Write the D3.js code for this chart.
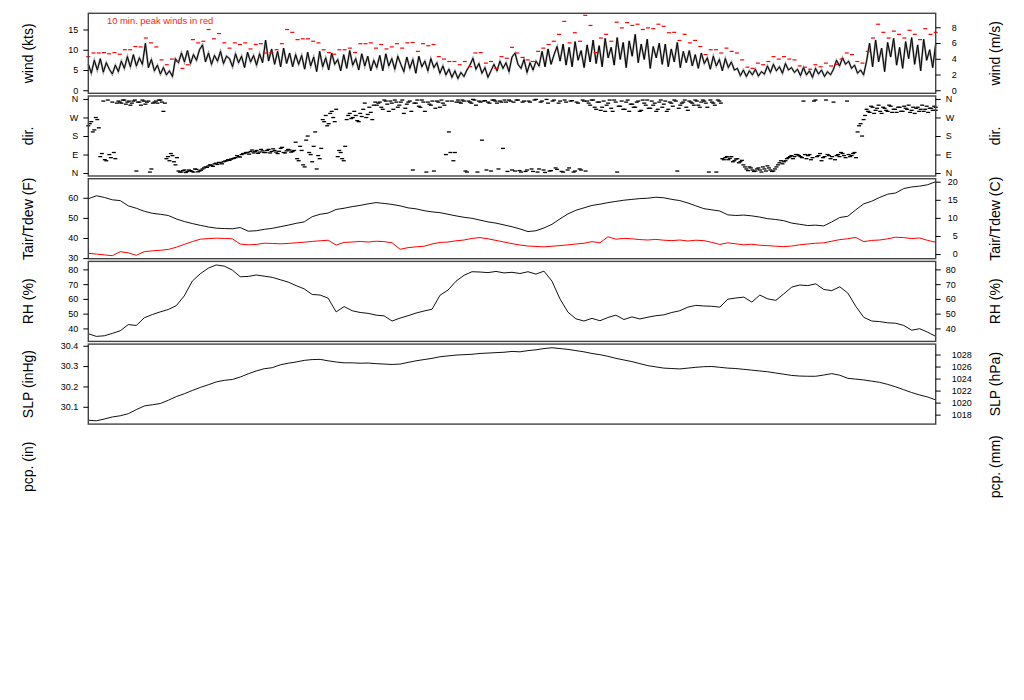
<!DOCTYPE html>
<meta charset="utf-8">
<script src="https://d3js.org/d3.v7.min.js"></script>
<style>
body { margin: 0; background: #fff; }
text { font-family: "Liberation Sans", Arial, sans-serif; }
.frame { fill: none; stroke: #444; stroke-width: 1.4px; }
.tick line { stroke: #000; }
.tick text { font-size: 9px; fill: #000; }
.lab { font-size: 14px; fill: #000; }
</style>
<body>
<script>

// ---- data (evenly spaced samples over the whole period) ----
let spanHours = 72;

// wind speed (kts)
let windKts = [
  6.5, 4.2, 7.4, 5.0, 7.8, 4.5, 6.8, 5.2,
  4.0, 6.2, 4.6,
  7.2, 5.4, 8.3, 5.8, 8.8, 6.0, 8.0, 6.4, 11.6,
  5.6, 7.6,
  4.8, 6.2, 4.0, 5.6, 3.8, 4.8, 3.4,
  7.8, 6.8, 9.2, 7.0, 9.8, 6.6, 8.8, 7.4, 10.0, 11.2,
  7.0, 9.2, 6.4, 8.6, 7.2, 9.6, 6.6, 8.4,
  7.8, 5.8, 9.0, 6.8, 8.4, 5.6, 9.4, 7.0, 8.6, 6.2, 9.0, 6.8,
  12.4, 7.2, 10.2,
  6.4, 9.6, 5.8, 10.4, 6.6, 9.2, 5.8, 8.8, 6.4,
  8.6, 5.2, 9.4, 6.0, 8.2, 4.6, 9.6, 5.8, 8.0, 5.0, 9.2, 6.4, 7.6, 4.8, 8.8, 5.4, 9.8, 6.2, 7.8, 5.0, 9.0, 6.0, 8.4, 4.8, 7.4,
  5.6, 8.6, 4.8, 9.0, 6.0, 7.8, 5.2, 8.4, 6.4,
  4.6, 8.2, 5.4, 7.6, 4.2, 8.4, 5.8, 7.2, 4.8, 7.8, 5.6,
  6.8, 4.2, 6.0, 3.8, 5.2, 3.2, 4.8, 2.9, 4.4, 3.4, 5.0,
  6.2, 7.9, 5.2, 6.6,
  4.2, 5.6, 3.2, 4.8,
  6.4, 4.8, 7.2, 5.4, 6.8, 4.6,
  8.2, 9.2, 6.4,
  5.4, 7.6, 4.4, 6.8, 5.0, 7.2,
  6.0, 9.6, 5.8, 10.2, 6.4, 8.8, 10.8,
  7.2, 11.4, 6.2, 10.6, 5.8, 12.0, 7.4, 9.8, 5.6, 11.2,
  7.0, 12.4, 6.6, 11.0, 5.8, 12.8, 8.0, 10.6, 6.2, 13.0, 7.6, 11.8, 5.6, 12.2, 8.4, 13.8, 6.8, 11.4, 7.6, 12.6, 5.4, 10.8, 8.0, 11.6,
  6.4, 11.4, 5.8, 10.2, 7.0, 11.8, 5.6, 9.6, 6.8,
  9.8, 6.0, 8.8, 5.4, 9.2, 6.6, 8.0, 5.2, 8.4, 6.0, 7.6, 4.8, 7.8, 5.6, 7.0, 5.0,
  5.4, 3.6, 5.0, 3.4, 4.8, 3.8, 5.2, 3.5, 4.6, 4.0,
  6.0, 4.4, 6.4, 4.8, 5.8, 4.2, 6.6, 5.0, 5.6, 4.4,
  5.2, 3.6, 5.6, 3.8, 4.8, 3.2, 5.4, 4.0, 5.0, 3.4, 4.6, 3.8, 5.2,
  7.4, 6.0, 8.0, 6.4, 7.2, 5.4, 6.2,
  4.2, 5.0, 3.8,
  7.2, 11.6, 5.8, 12.4, 7.0, 10.4, 4.6, 11.8, 8.2, 12.8, 6.2, 10.6, 5.4, 12.0, 7.8, 13.0, 6.4, 11.2, 4.8, 12.6, 7.4, 10.0, 5.6, 11.4
];

// 10 min. peak winds (kts)
let peakKts = [
  8.3, 9.2, 9.2, 9.3, 9.0, 9.3, 8.9, 10.0, 10.0, 10.8, 10.7, 12.9, 11.7, 10.7, 7.5, 6.3, 7.7, 7.1, 5.4, 6.3,
  12.5, 11.7, 12.1, 15.0, 12.7, 14.0, 11.7, 10.4, 11.7, 11.3, 11.7, 10.2, 11.3, 11.5, 9.2, 9.2, 10.0, 11.5,
  15.0, 14.3, 12.5, 12.7, 12.7, 12.1, 11.7, 10.0, 9.3, 8.9, 10.0, 10.0, 10.4, 9.3, 11.5, 11.5, 11.7, 10.4, 11.3,
  10.2, 10.7, 11.5, 10.4, 11.7, 11.8, 9.6, 11.5, 11.0, 11.3, 8.3, 7.7, 7.1, 7.1, 6.3, 7.1, 5.8, 9.2, 9.3, 6.7, 7.1, 5.4, 8.3, 7.9,
  10.6, 9.2, 8.1, 7.5, 7.1, 9.6, 10.4, 11.3, 12.1, 13.8, 17.0, 11.7, 14.2, 12.1, 18.5, 16.0, 9.3, 12.9, 13.8, 12.1, 16.8, 15.4, 16.7, 16.0, 16.3, 15.0, 15.4, 15.2, 16.3,
  15.8, 14.2, 14.3, 12.3, 13.8, 11.7, 12.3, 10.8, 8.8, 10.0, 10.0, 9.2, 10.4, 9.6, 9.2, 7.5, 5.7, 5.4, 6.7, 6.3, 7.1, 8.3, 7.7, 8.3, 7.7, 7.5, 6.0, 5.7, 5.2, 6.3, 5.8, 6.7, 6.0, 6.4, 7.7,
  9.2, 8.8, 7.1, 6.7, 9.6, 12.9, 16.3, 14.3, 12.9, 14.6, 13.8, 12.9, 14.8, 13.8, 12.5, 15.2, 13.8, 14.3
];

// wind direction (degrees), two interleaved sample sets
let dirDeg = [
  230, 250, 210, 260,
  80, 350, 60, 90, 345, 70,
  350, 340, 355, 345, 330, 350, 10, 345, 355, 335, 350, 20, 345, 340, 355, 300,
  70, 60, 85, 40,
  10, 5, 15, 8, 12, 5, 18, 10, 20,
  30, 35, 38, 45, 42, 50, 55, 60, 62, 70, 75, 80, 90,
  95, 100, 105, 98, 110, 102, 108, 100, 115, 105, 110, 95, 120, 100, 108, 112, 105,
  150, 60, 110, 30, 180, 90, 130, 20, 70,
  260, 280, 240, 300, 250,
  80, 100, 60,
  260, 290, 270, 280, 250, 275, 340, 285, 295, 330,
  330, 345, 310, 350, 300, 340, 355, 320, 345, 290, 335, 350, 15, 340, 325, 355, 300, 345, 330, 10, 350, 320, 340,
  90, 200, 350, 100,
  355, 340, 350, 5, 345, 358, 330, 350, 160, 352, 345, 10, 355, 340, 350, 120, 345, 355, 15,
  10, 355, 5, 350, 15, 345, 8, 358, 20, 350, 3, 340, 12, 355, 18, 350, 5, 345, 25, 352, 10, 340, 15, 350,
  350, 330, 355, 310, 345, 320, 300, 340, 315, 355, 5, 325, 310, 345, 300, 335, 320, 350, 305, 340,
  355, 315, 330, 300, 345, 320, 350, 310, 340, 355, 10, 330, 345, 320, 350, 340, 355, 330, 345, 350,
  320, 355, 340, 5, 350,
  70, 75, 65, 80, 60, 70, 55, 40, 20, 30, 15, 10, 25, 5, 20, 35, 15, 10, 30, 50, 45, 60, 75, 85, 80, 90,
  80, 350, 70, 90, 75, 355, 85, 60, 80, 90, 70, 345, 85, 80, 95, 75, 90, 85, 100,
  200, 240, 260,
  310, 295, 320, 305, 330, 290, 315, 300, 325, 310, 295, 320, 300, 315, 330, 305, 290, 320, 310, 300, 325, 315, 305, 320
];
let dirDegB = [
  240, 200, 270, 220,
  95, 65, 355, 75, 100, 340,
  345, 355, 335, 350, 340, 355, 345, 330, 350, 345, 5, 340, 350, 355, 345, 340,
  80, 95, 55, 75,
  5, 12, 3, 15, 8, 20, 6, 14, 25,
  28, 40, 33, 48, 52, 45, 58, 65, 68, 72, 85, 78, 95,
  100, 92, 112, 104, 96, 115, 100, 110, 98, 118, 102, 106, 125, 98, 115, 102, 110,
  70, 130, 40, 160, 100, 55, 200, 85, 120,
  250, 230, 290, 270, 310,
  110, 70, 130,
  280, 265, 300, 255, 290, 310, 270, 320, 260, 345,
  340, 320, 355, 335, 350, 310, 345, 330, 355, 315, 345, 300, 340, 355, 320, 345, 5, 335, 350, 315, 345, 355, 330,
  350, 100, 60, 345,
  345, 355, 10, 350, 340, 355, 5, 345, 350, 15, 340, 355, 350, 20, 345, 355, 8, 350, 345,
  355, 12, 345, 8, 350, 20, 355, 5, 345, 15, 358, 10, 350, 25, 340, 8, 355, 15, 350, 5, 345, 20, 355, 10,
  340, 355, 320, 345, 305, 350, 330, 355, 300, 345, 325, 350, 310, 355, 335, 320, 345, 300, 355, 330,
  315, 350, 340, 310, 355, 335, 300, 345, 325, 350, 315, 340, 355, 305, 345, 330, 350, 320, 355, 340,
  5, 345, 330, 355, 340,
  65, 80, 72, 55, 68, 50, 62, 30, 12, 25, 8, 20, 15, 30, 10, 25, 8, 20, 40, 60, 55, 70, 80, 70, 90, 85,
  75, 90, 85, 65, 350, 80, 95, 75, 355, 85, 80, 65, 90, 100, 85, 350, 80, 95, 75,
  230, 180, 280,
  300, 325, 290, 315, 300, 320, 305, 330, 295, 310, 320, 300, 325, 310, 295, 320, 315, 300, 330, 310, 295, 315, 325, 305
];

// air temperature and dew point (F)
let tairF = [
  59.5, 61.0, 60.2, 59.0, 58.6, 56.0, 54.8, 53.3, 52.3, 51.8, 51.2, 49.5, 48.2, 47.2, 46.3, 45.5, 44.9, 44.7, 44.6, 45.2,
  43.4, 43.6, 44.3, 44.8, 45.6, 46.4, 47.3, 48.0, 50.6, 51.8, 52.4, 54.2, 54.8, 55.6, 56.2, 57.0, 57.6, 57.2, 56.7, 56.0,
  55.0, 54.5, 53.6, 53.0, 52.6, 51.8, 51.0, 50.3, 49.8, 48.9, 48.0, 47.4, 46.5, 45.6, 44.5, 43.2, 43.6, 45.0, 46.8, 49.5,
  52.0, 53.8, 55.0, 56.2, 56.8, 57.6, 58.2, 58.8, 59.2, 59.6, 59.8, 60.3, 60.0, 59.2, 58.6, 57.4, 56.0, 54.6, 54.0, 53.4,
  51.5, 51.2, 51.4, 51.0, 50.4, 49.6, 49.2, 48.6, 47.4, 46.8, 46.2, 46.4, 46.0, 48.0, 50.2, 50.8, 54.0, 57.0, 58.3, 60.2,
  61.8, 62.4, 64.6, 65.4, 65.8, 66.5, 68.0
];
let tdewF = [
  32.4, 32.0, 31.6, 31.2, 33.2, 32.6, 31.4, 33.2, 33.6, 33.9, 34.3, 35.4, 36.8, 38.2, 39.4, 39.7, 39.9, 39.8, 39.6, 37.0,
  36.6, 36.8, 37.4, 37.3, 37.1, 37.3, 37.6, 37.9, 38.3, 38.6, 38.9, 36.5, 37.8, 38.0, 38.3, 38.0, 38.4, 38.2, 37.6, 34.4,
  35.2, 35.6, 35.9, 37.0, 37.8, 38.0, 38.6, 39.0, 39.8, 40.2, 39.6, 38.8, 38.0, 37.2, 36.5, 36.0, 35.8, 35.6, 35.9, 36.2,
  36.6, 37.0, 37.4, 38.2, 37.6, 40.6, 39.4, 39.8, 39.6, 39.2, 39.0, 39.3, 38.9, 38.7, 39.0, 38.5, 38.9, 38.7, 37.8, 36.8,
  37.6, 37.1, 36.6, 36.9, 36.4, 36.2, 35.9, 35.7, 36.0, 36.6, 37.0, 37.4, 37.6, 38.4, 39.2, 39.6, 40.3, 38.2, 38.8, 39.0,
  39.6, 40.4, 40.2, 39.7, 40.0, 38.8, 37.9
];

// relative humidity (%)
let rhPct = [
  36.4, 34.6, 35.0, 36.6, 38.4, 42.6, 42.0, 47.2, 49.4, 51.2, 52.8, 55.4, 62.0, 72.0, 77.0, 80.8, 83.0, 82.2, 79.6, 75.0,
  75.2, 76.2, 75.4, 74.6, 73.0, 71.4, 69.0, 66.8, 63.0, 62.6, 60.5, 51.2, 54.8, 52.0, 50.8, 50.2, 49.0, 48.5, 45.0, 47.0,
  48.6, 50.4, 51.8, 53.0, 62.5, 66.0, 72.0, 76.0, 78.4, 78.2, 77.8, 78.6, 77.6, 78.0, 77.2, 78.4, 76.8, 78.8, 72.0, 60.0,
  51.0, 46.5, 45.0, 46.8, 45.2, 47.4, 49.0, 46.0, 47.8, 46.4, 47.6, 48.6, 49.2, 50.8, 52.0, 54.4, 55.6, 55.2, 55.0, 54.4,
  59.8, 60.6, 61.2, 57.8, 62.6, 60.0, 59.0, 63.4, 68.0, 69.4, 69.0, 70.2, 66.4, 65.6, 68.2, 64.0, 55.0, 47.5, 45.0, 44.6,
  43.8, 43.5, 42.0, 38.8, 39.8, 37.4, 34.6
];

// sea level pressure (inHg)
let slpInHg = [
  30.034, 30.031, 30.040, 30.050, 30.056, 30.066, 30.086, 30.104, 30.110, 30.116, 30.132, 30.150, 30.164, 30.180, 30.195,
  30.208, 30.222, 30.230, 30.234, 30.246, 30.262, 30.276, 30.287, 30.292, 30.306, 30.314, 30.320, 30.328, 30.332, 30.333,
  30.326, 30.320, 30.316, 30.316, 30.314, 30.315, 30.312, 30.310, 30.308, 30.310, 30.318, 30.326, 30.332, 30.338, 30.346,
  30.350, 30.354, 30.356, 30.358, 30.362, 30.364, 30.366, 30.368, 30.372, 30.370, 30.376, 30.380, 30.386, 30.390, 30.386,
  30.382, 30.376, 30.370, 30.362, 30.356, 30.348, 30.338, 30.330, 30.322, 30.312, 30.302, 30.296, 30.290, 30.288, 30.286,
  30.290, 30.294, 30.297, 30.298, 30.294, 30.290, 30.288, 30.284, 30.280, 30.276, 30.272, 30.266, 30.260, 30.254, 30.251,
  30.250, 30.250, 30.256, 30.263, 30.255, 30.240, 30.236, 30.232, 30.226, 30.220, 30.210, 30.198, 30.184, 30.170, 30.158,
  30.148, 30.134
];

// tick values and labels
let windTicks = [0, 5, 10, 15];
let windMsTicks = [0, 2, 4, 6, 8];
let dirTicks = [0, 90, 180, 270, 360];
let dirTickLabels = ["N", "E", "S", "W", "N"];
let tempFTicks = [30, 40, 50, 60];
let tempCTicks = [0, 5, 10, 15, 20];
let rhTicks = [40, 50, 60, 70, 80];
let slpInTicks = [30.1, 30.2, 30.3, 30.4];
let slpHpaTicks = [1018, 1020, 1022, 1024, 1026, 1028];

// ---- layout ----
let width = 1024, height = 700;
let left = 88.3, right = 935.7, top0 = 13.3, ph = 80, step = 82.7;

let svg = d3.select("body").append("svg")
    .attr("width", width)
    .attr("height", height);

let x = d3.scaleLinear().domain([0, spanHours]).range([left, right]);

function timed(arr) {
  return arr.map((v, i) => ({t: i * spanHours / (arr.length - 1), v: v}));
}

// second direction set sampled half a step later
function timedHalf(arr) {
  let dt = spanHours / (arr.length - 1);
  return arr.map((v, i) => ({t: Math.min(spanHours, (i + 0.5) * dt), v: v}));
}

function panelY(k, dom) {
  return d3.scaleLinear().domain(dom).range([top0 + k * step + ph, top0 + k * step]);
}

function sideLabels(k, lab, rlab) {
  let cy = top0 + k * step + ph / 2;
  svg.append("text").attr("class", "lab")
      .attr("transform", `translate(28,${cy}) rotate(-90)`)
      .attr("text-anchor", "middle").attr("dy", "0.35em")
      .text(lab);
  svg.append("text").attr("class", "lab")
      .attr("transform", `translate(995,${cy}) rotate(-90)`)
      .attr("text-anchor", "middle").attr("dy", "0.35em")
      .text(rlab);
}

function frame(k) {
  svg.append("rect").attr("class", "frame")
      .attr("x", left).attr("y", top0 + k * step)
      .attr("width", right - left).attr("height", ph);
}

function leftAxis(y, ticks, fmt) {
  let ax = d3.axisLeft(y).tickValues(ticks).tickSize(5).tickPadding(5);
  if (fmt) ax.tickFormat(fmt);
  let g = svg.append("g").attr("transform", `translate(${left},0)`).call(ax);
  g.select(".domain").remove();
  return g;
}

function rightAxis(y, ticks, pad, fmt) {
  let ax = d3.axisRight(y).tickValues(ticks).tickSize(5).tickPadding(pad);
  if (fmt) ax.tickFormat(fmt);
  let g = svg.append("g").attr("transform", `translate(${right},0)`).call(ax);
  g.select(".domain").remove();
  return g;
}

let line = (y) => d3.line().x(d => x(d.t)).y(d => y(d.v));

// ---- panel 0: wind ----
let yWind = panelY(0, [-0.75, 19.0]);
let yWindMs = panelY(0, yWind.domain().map(v => v * 0.514444));
let windData = timed(windKts);
svg.append("path").datum(windData)
    .attr("d", line(yWind))
    .attr("fill", "none").attr("stroke", "#999").attr("stroke-width", 2);
svg.append("path").datum(windData)
    .attr("d", line(yWind))
    .attr("fill", "none").attr("stroke", "#000").attr("stroke-width", 1);
svg.append("g").selectAll("rect")
    .data(timed(peakKts))
    .enter().append("rect")
    .attr("x", d => x(d.t) - 2).attr("y", d => yWind(d.v) - 0.6)
    .attr("width", 4).attr("height", 1.2)
    .attr("fill", "#ff0000");
svg.append("text")
    .attr("x", 107).attr("y", 23.5)
    .attr("font-size", "9.4px").attr("fill", "#ff2020")
    .text("10 min. peak winds in red");
frame(0);
leftAxis(yWind, windTicks);
rightAxis(yWindMs, windMsTicks, 11);
sideLabels(0, "wind (kts)", "wind (m/s)");

// ---- panel 1: direction ----
let yDir = panelY(1, [-14.4, 374.4]);
let dirData = timed(dirDeg).concat(timedHalf(dirDegB));
svg.append("g").selectAll("rect")
    .data(dirData)
    .enter().append("rect")
    .attr("x", d => x(d.t) - 2).attr("y", d => yDir(d.v) - 0.6)
    .attr("width", 4).attr("height", 1.3)
    .attr("fill", "#000");
frame(1);
let dirFmt = (d, i) => dirTickLabels[i];
leftAxis(yDir, dirTicks, dirFmt);
rightAxis(yDir, dirTicks, 5, dirFmt);
sideLabels(1, "dir.", "dir.");

// ---- panel 2: temperature ----
let yTemp = panelY(2, [29.7, 69.5]);
let yTempC = panelY(2, yTemp.domain().map(f => (f - 32) / 1.8));
svg.append("path").datum(timed(tairF))
    .attr("d", line(yTemp))
    .attr("fill", "none").attr("stroke", "#111").attr("stroke-width", 1);
svg.append("path").datum(timed(tdewF))
    .attr("d", line(yTemp))
    .attr("fill", "none").attr("stroke", "#ff0000").attr("stroke-width", 1);
frame(2);
leftAxis(yTemp, tempFTicks);
rightAxis(yTempC, tempCTicks, 17)
    .selectAll(".tick text").attr("text-anchor", "end");
sideLabels(2, "Tair/Tdew (F)", "Tair/Tdew (C)");

// ---- panel 3: relative humidity ----
let yRh = panelY(3, [31.2, 85.4]);
svg.append("path").datum(timed(rhPct))
    .attr("d", line(yRh))
    .attr("fill", "none").attr("stroke", "#111").attr("stroke-width", 1);
frame(3);
leftAxis(yRh, rhTicks);
rightAxis(yRh, rhTicks, 5);
sideLabels(3, "RH (%)", "RH (%)");

// ---- panel 4: sea level pressure ----
let ySlp = panelY(4, [30.015, 30.408]);
let ySlpHpa = panelY(4, ySlp.domain().map(p => p * 33.8639));
svg.append("path").datum(timed(slpInHg))
    .attr("d", line(ySlp))
    .attr("fill", "none").attr("stroke", "#111").attr("stroke-width", 1);
frame(4);
leftAxis(ySlp, slpInTicks, d3.format(".1f"));
rightAxis(ySlpHpa, slpHpaTicks, 11, d3.format("d"));
sideLabels(4, "SLP (inHg)", "SLP (hPa)");

// ---- panel 5: precipitation (no data, labels only) ----
sideLabels(5, "pcp. (in)", "pcp. (mm)");

</script>
